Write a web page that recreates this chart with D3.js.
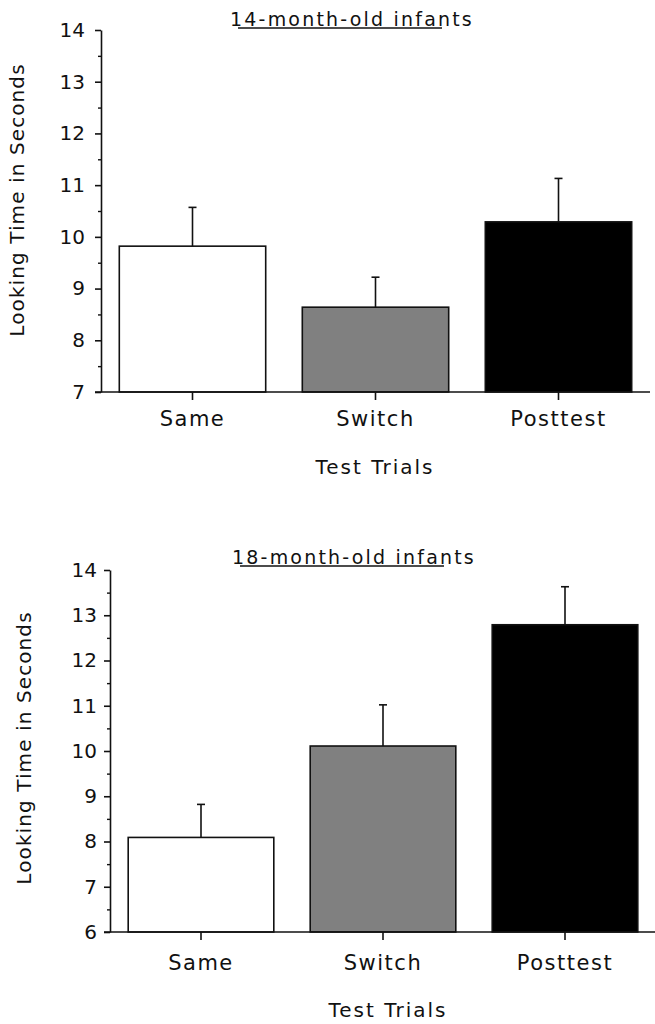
<!DOCTYPE html>
<html>
<head>
<meta charset="utf-8">
<script src="https://cdn.jsdelivr.net/npm/d3@7"></script>
<style>
  html, body { margin: 0; padding: 0; background: #fff; }
  svg { display: block; }
  text { font-family: "DejaVu Sans", Verdana, sans-serif; fill: #111; }
</style>
</head>
<body>
<svg id="chart" width="655" height="1024"></svg>
<script>
// Test trial conditions
const categories = ["Same", "Switch", "Posttest"];
const barFills = ["#ffffff", "#808080", "#000000"];

// 14-month-olds: mean looking time and standard error (s)
const means14 = [9.82, 8.64, 10.29];
const errors14 = [0.75, 0.58, 0.84];
const yTicks14 = [7, 8, 9, 10, 11, 12, 13, 14];

// 18-month-olds: mean looking time and standard error (s)
const means18 = [8.09, 10.11, 12.79];
const errors18 = [0.73, 0.91, 0.84];
const yTicks18 = [6, 7, 8, 9, 10, 11, 12, 13, 14];

const yTitle = "Looking Time in Seconds";
const xTitle = "Test Trials";

const svg = d3.select("#chart");

function panel(opts) {
  const g = svg.append("g");
  const y = d3.scaleLinear()
    .domain([opts.ticks[0], opts.ticks[opts.ticks.length - 1]])
    .range([opts.bottom, opts.top]);
  const x = d3.scaleBand()
    .domain(categories)
    .range([opts.left, opts.left + 3 * opts.step])
    .paddingInner(0.2)
    .paddingOuter(0.1);

  // bars
  g.selectAll("rect.bar")
    .data(opts.means)
    .join("rect")
    .attr("class", "bar")
    .attr("x", (d, i) => x(categories[i]))
    .attr("width", x.bandwidth())
    .attr("y", d => y(d))
    .attr("height", d => y(opts.ticks[0]) - y(d))
    .attr("fill", (d, i) => barFills[i])
    .attr("stroke", "#111")
    .attr("stroke-width", 1.6);

  // upward error bars
  const eb = g.selectAll("g.err")
    .data(opts.means)
    .join("g")
    .attr("class", "err")
    .attr("transform", (d, i) => `translate(${x(categories[i]) + x.bandwidth() / 2},0)`);
  eb.append("line")
    .attr("y1", d => y(d))
    .attr("y2", (d, i) => y(d + opts.errors[i]))
    .attr("stroke", "#111").attr("stroke-width", 1.6);
  eb.append("line")
    .attr("x1", -4).attr("x2", 4)
    .attr("y1", (d, i) => y(d + opts.errors[i]))
    .attr("y2", (d, i) => y(d + opts.errors[i]))
    .attr("stroke", "#111").attr("stroke-width", 1.6);

  // minor ticks at half units
  const minor = d3.range(opts.ticks[0] + 0.5, opts.ticks[opts.ticks.length - 1], 1);
  g.append("g")
    .attr("transform", `translate(${opts.left},0)`)
    .call(d3.axisLeft(y).tickValues(minor).tickSize(3).tickFormat(""))
    .call(a => a.select(".domain").remove())
    .call(a => a.selectAll("line").attr("stroke", "#111").attr("stroke-width", 1.4));

  // y axis
  const ya = g.append("g")
    .attr("transform", `translate(${opts.left},0)`)
    .call(d3.axisLeft(y).tickValues(opts.ticks).tickSize(6).tickPadding(opts.tickPad).tickSizeOuter(0).tickFormat(d3.format("d")));
  ya.select(".domain").attr("stroke", "#111").attr("stroke-width", 1.6);
  ya.selectAll("line").attr("stroke", "#111").attr("stroke-width", 1.6);
  ya.selectAll("text").attr("font-size", 20).style("font-family", "DejaVu Sans");

  // x axis baseline and ticks
  g.append("line")
    .attr("x1", opts.left - 6).attr("x2", opts.right)
    .attr("y1", y(opts.ticks[0])).attr("y2", y(opts.ticks[0]))
    .attr("stroke", "#111").attr("stroke-width", 1.6);
  const xa = g.append("g")
    .attr("transform", `translate(0,${y(opts.ticks[0])})`)
    .call(d3.axisBottom(x).tickSize(8).tickPadding(opts.xPad));
  xa.select(".domain").remove();
  xa.selectAll("line").attr("stroke", "#111").attr("stroke-width", 1.6);
  xa.selectAll("text").attr("font-size", 21).attr("letter-spacing", 1.5)
    .style("font-family", "DejaVu Sans");

  // axis titles
  g.append("text")
    .attr("transform", `translate(${opts.yTitleX},${opts.yTitleY}) rotate(-90)`)
    .attr("text-anchor", "middle")
    .attr("dominant-baseline", "central")
    .attr("font-size", 20)
    .attr("letter-spacing", 1.1)
    .text(yTitle);
  g.append("text")
    .attr("x", opts.xTitleX)
    .attr("y", opts.xTitleBase)
    .attr("text-anchor", "middle")
    .attr("font-size", 20)
    .attr("letter-spacing", 2)
    .text(xTitle);

  // panel title with underline
  const t = g.append("text")
    .attr("x", opts.titleX)
    .attr("y", opts.titleY)
    .attr("text-anchor", "middle")
    .attr("font-size", 19)
    .attr("letter-spacing", 2.2)
    .text(opts.title);
  const bb = t.node().getBBox();
  g.append("line")
    .attr("x1", bb.x + 8).attr("x2", bb.x + bb.width - 32)
    .attr("y1", opts.titleY + 2).attr("y2", opts.titleY + 2)
    .attr("stroke", "#111").attr("stroke-width", 1.4);
}

panel({
  title: "14-month-old infants",
  means: means14, errors: errors14, ticks: yTicks14,
  left: 101, right: 650, step: 183, top: 30, bottom: 392,
  tickPad: 10, xPad: 11, yTitleX: 17, yTitleY: 200,
  xTitleX: 375, xTitleBase: 474,
  titleX: 352, titleY: 26
});

panel({
  title: "18-month-old infants",
  means: means18, errors: errors18, ticks: yTicks18,
  left: 110, right: 655, step: 182, top: 570, bottom: 932,
  tickPad: 7, xPad: 15, yTitleX: 24, yTitleY: 748,
  xTitleX: 388, xTitleBase: 1017,
  titleX: 354, titleY: 564
});
</script>
</body>
</html>
